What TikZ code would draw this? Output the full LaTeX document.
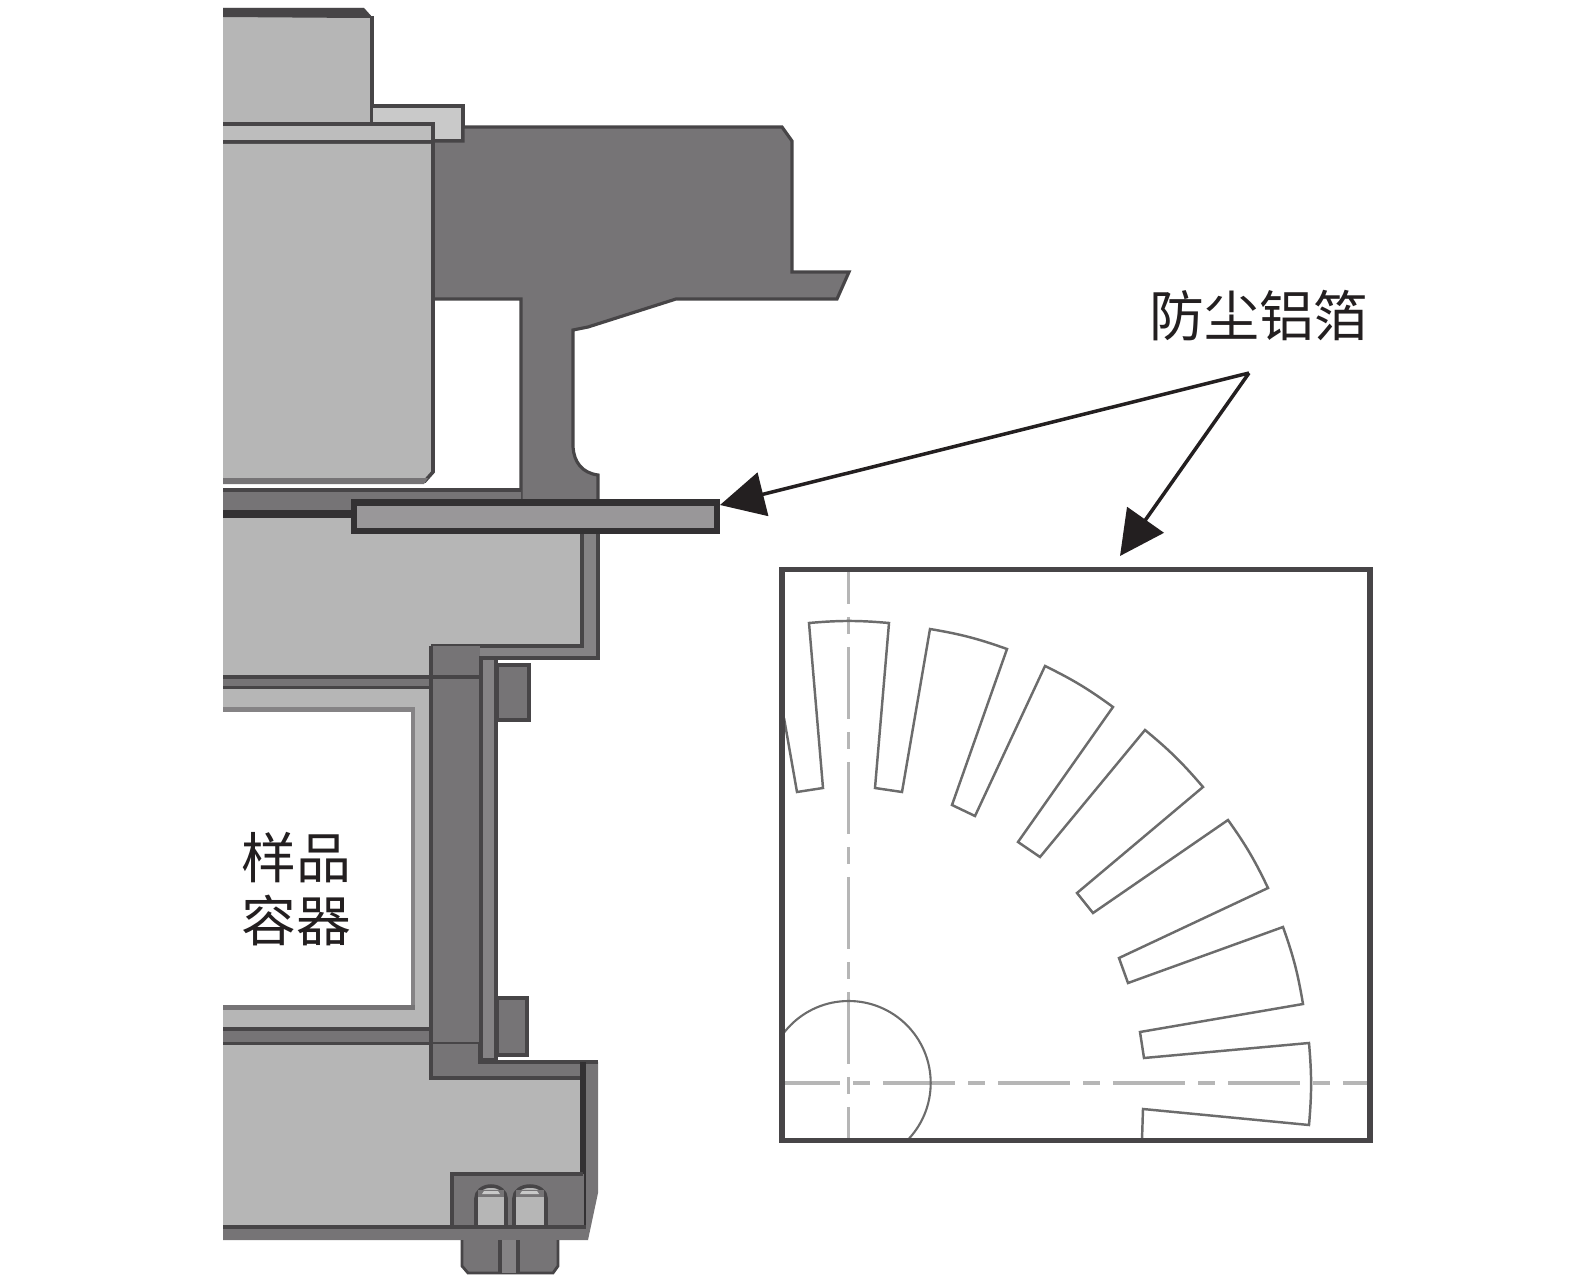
\documentclass[tikz,border=0pt]{standalone}
\usepackage{fontspec}
\newfontfamily\cjk{Noto Sans CJK SC}
\usetikzlibrary{arrows.meta}
\definecolor{lt}{HTML}{B6B6B6}
\definecolor{ltb}{HTML}{BDBDBD}
\definecolor{lts}{HTML}{C9C9C9}
\definecolor{md}{HTML}{767476}
\definecolor{mdb}{HTML}{858385}
\definecolor{barf}{HTML}{999799}
\definecolor{ln}{HTML}{474547}
\definecolor{blk}{HTML}{333133}
\definecolor{ink}{HTML}{231F20}
\tikzset{
  x=0.01cm,y=-0.01cm,
  lightpart/.style={fill=lt,draw=none},
  darkpart/.style={fill=md,draw=ln,line width=0.9pt,line join=miter},
  rule/.style={draw=ln,line width=1pt},
  heavyrule/.style={draw=blk,line width=1.9pt},
  frameline/.style={draw=ln,line width=1.5pt},
  slotline/.style={draw=gray!85!black,line width=0.7pt,line join=miter},
  centerline/.style={draw=lt,line width=1pt},
  pointer/.style={draw=ink,line width=1pt,-{Triangle[length=12.6pt,width=12.6pt]}},
  label/.style={font=\cjk\fontsize{15.6pt}{17pt}\selectfont,text=ink,inner sep=0pt}
}
\begin{document}
\begin{tikzpicture}
\useasboundingbox (0,0) rectangle (1575,1282);
% top block
\fill[lt] (223,8) -- (364,8) -- (373,18) -- (373,123) -- (223,123) -- cycle;
\fill[ln] (223,8) -- (364,8) -- (373,18) -- (361,18) -- (223,17) -- cycle;
\draw[rule] (372,16) -- (372,123);
% small L piece
\path[fill=lts] (373,106) -- (463,106) -- (463,141) -- (435,141) -- (435,124) -- (373,124) -- cycle;
\draw[rule] (373,106) -- (463,106) -- (463,141) -- (435,141);
% large dark body
\path[darkpart] (463,127) -- (782,127) -- (792,141) -- (792,272) -- (849,272) -- (837,299) -- (676,299) -- (588,327) -- (573,330) -- (573,447) .. controls (574,462) and (582,473) .. (598,475) -- (598,502) -- (521,502) -- (521,299) -- (433,299) -- (433,141) -- (463,141) -- cycle;
% second band
\fill[ltb] (223,123) -- (434,123) -- (434,142) -- (223,142) -- cycle;
\draw[rule] (223,124) -- (435,124);
\draw[draw=ln,line width=1.3pt] (223,142) -- (434,142);
% main block
\fill[lt] (223,144) -- (433,144) -- (433,472) -- (424,482) -- (223,482) -- cycle;
\draw[rule] (433,124) -- (433,472) -- (425,481) -- (223,481);
\fill[md] (223,478) -- (428,478) -- (424,484) -- (223,484) -- cycle;
% flange band behind the foil
\path[fill=md] (223,490) -- (521,490) -- (521,502) -- (351,502) -- (351,512) -- (223,512) -- cycle;
\draw[rule] (223,490) -- (521,490);
% lower-body light area
\fill[lt] (223,518) -- (351,518) -- (351,534) -- (582,534) -- (582,646) -- (431,646) -- (431,678) -- (223,678) -- cycle;
\fill[blk] (223,510) rectangle (352,518);
% right wall of upper flange
\path[fill=mdb] (582,534) -- (598,534) -- (598,658) -- (480,658) -- (480,646) -- (582,646) -- cycle;
\draw[rule] (598,534) -- (598,658) -- (480,658);
\draw[rule] (582,534) -- (582,646) -- (431,646);
% column
\path[fill=md] (431,646) -- (480,646) -- (480,1078) -- (431,1078) -- cycle;
\draw[rule] (431,646) -- (431,1078);
% sample container band and walls
\fill[md] (223,678) rectangle (431,689);
\draw[rule] (223,677) -- (480,677);
\draw[rule] (223,688) -- (431,688);
\fill[lt] (223,689) rectangle (431,1028);
\fill[white] (223,712) rectangle (411,1005);
\fill[mdb] (223,707) rectangle (415,712);
\fill[mdb] (411,707) rectangle (415,1010);
\fill[md] (223,1005) rectangle (415,1010);
\fill[md] (223,1028) rectangle (431,1044);
\draw[rule] (223,1029) -- (431,1029);
\draw[rule] (223,1044) -- (480,1044);
\draw[rule] (431,646) -- (431,1078);
% thin panel and side lugs
\path[darkpart] (497,665) rectangle (529,720);
\path[darkpart] (497,998) rectangle (527,1055);
\path[fill=mdb,draw=ln,line width=1pt] (481,658) rectangle (496,1060);
% bottom block
\fill[lt] (223,1045) -- (431,1045) -- (431,1078) -- (580,1078) -- (580,1174) -- (452,1174) -- (452,1226) -- (223,1226) -- cycle;
\path[fill=md] (480,1062) -- (598,1062) -- (598,1193) -- (588,1240) -- (580,1226) -- (580,1078) -- (431,1078) -- (431,1044) -- (480,1044) -- cycle;
\draw[rule] (431,1044) -- (431,1078) -- (580,1078);
\draw[rule] (480,1044) -- (480,1062) -- (598,1062);
\draw[draw=blk,line width=1.8pt] (583,1062) -- (583,1226);
% bolt housing
\path[fill=md] (452,1174) -- (584,1174) -- (584,1226) -- (452,1226) -- cycle;
\draw[rule] (452,1226) -- (452,1174) -- (583,1174);
% bolts
\path[fill=lt,draw=ln,line width=1pt] (476,1226) -- (476,1198) .. controls (476,1192) and (482,1186) .. (491,1186) .. controls (500,1186) and (506,1192) .. (506,1198) -- (506,1226);
\path[fill=lt,draw=ln,line width=1pt] (514,1226) -- (514,1198) .. controls (514,1192) and (520,1186) .. (530,1186) .. controls (540,1186) and (546,1192) .. (546,1198) -- (546,1226);
\fill[md] (478,1190) -- (504,1190) -- (504,1197) -- (478,1197) -- cycle;
\fill[md] (516,1190) -- (544,1190) -- (544,1197) -- (516,1197) -- cycle;
\fill[lts] (484,1191) -- (498,1191) -- (500,1194) -- (482,1194) -- cycle;
\fill[lts] (522,1191) -- (537,1191) -- (539,1194) -- (520,1194) -- cycle;
% bottom strip
\path[fill=md] (223,1226) -- (586,1226) -- (588,1240) -- (223,1240) -- cycle;
\draw[rule] (223,1227) -- (586,1227);
% bolt caps
\path[fill=md,draw=ln,line width=0.8pt] (462,1240) -- (462,1266) -- (468,1273) -- (553,1273) -- (558,1266) -- (558,1240);
\fill[mdb] (500,1240) rectangle (518,1273);
\draw[rule] (500,1240) -- (500,1273);
\draw[rule] (518,1240) -- (518,1273);
% foil bar
\path[fill=barf,draw=blk,line width=1.8pt] (354,502.5) rectangle (717,531);
% inset drawing
\coordinate (inNW) at (782,569.5);
\coordinate (inSE) at (1370,1140.5);
\begin{scope}
\clip (inNW) rectangle (inSE);
\draw[centerline,dash pattern=on 20.5pt off 3.7pt on 4.8pt off 3.7pt,dash phase=10.7pt] (848.7,569.5) -- (848.7,1140.5);
\draw[centerline,dash pattern=on 20.5pt off 3.7pt on 4.8pt off 3.7pt,dash phase=4pt] (782,1083) -- (1370,1083);
\end{scope}
\begin{scope}
\clip (782,569.5) -- (1370,569.5) -- (1370,1140.5) -- (848,1140.5) -- (848,1083) -- (782,1083) -- cycle;
\draw[draw=gray!85!black,line width=0.6pt] (848.7,1083) circle[radius=82];
\end{scope}
\draw[slotline] (784,718) -- (797,792) -- (823,788) -- (809,623)
  to[bend left=5] (889,623) -- (875,788) -- (902,792) -- (930,629)
  to[bend left=5] (1007,649) -- (952,805) -- (975,816) -- (1045,666)
  to[bend left=5] (1113,707) -- (1018,842) -- (1040,857) -- (1145,730)
  to[bend left=5] (1203,787) -- (1077,893) -- (1093,913) -- (1228,820)
  to[bend left=5] (1268,888) -- (1119,958) -- (1128,983) -- (1283,927)
  to[bend left=5] (1303,1004) -- (1140,1032) -- (1144,1058) -- (1309,1043)
  to[bend left=5] (1309,1125) -- (1143,1109) -- (1142,1140);
\draw[frameline] (inNW) rectangle (inSE);
% labels and pointers
\node[label] (foil) at (1259,316) {防尘铝箔};
\node[label] (cupa) at (296,858) {样品};
\node[label] (cupb) at (296,920) {容器};
\coordinate (apex) at (1249,373);
\coordinate (tipbar) at (720,505);
\coordinate (tipinset) at (1120,556);
\draw[pointer] (apex) -- (tipbar);
\draw[pointer] (apex) -- (tipinset);
\end{tikzpicture}
\end{document}
